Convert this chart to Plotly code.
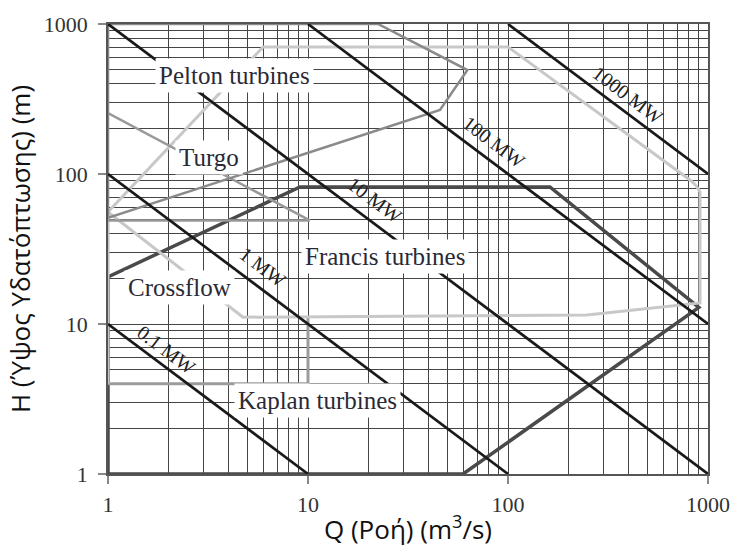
import numpy as np
import plotly.graph_objects as go

# ---- data -------------------------------------------------------------
# constant-power lines (H*Q = const), end points
mw_labels = ["0.1 MW", "1 MW", "10 MW", "100 MW", "1000 MW"]
mw_q = [[1, 10], [1, 100], [1, 1000], [10, 1000], [100, 1000]]
mw_h = [[10, 1], [100, 1], [1000, 1], [1000, 10], [1000, 100]]
mw_label_q = [1.97, 5.96, 21.6, 85.1, 398]
mw_label_h = [6.71, 24.0, 67.1, 163, 336]

# turbine application envelopes
pelton_q = [1, 1, 22.4, 62.7, 45.7, 1]
pelton_h = [51, 1000, 1000, 493, 267, 51]

turgo_q = [1, 10.2, 1]
turgo_h = [255, 49, 49]

francis_q = [1, 5.96, 100, 813, 870, 912, 912, 248, 4.73, 1]
francis_h = [55.8, 703, 703, 91.2, 84, 75.9, 13.8, 11.5, 11.1, 55.8]

crossflow_q = [10, 10, 1]
crossflow_h = [11.1, 4, 4]
crossflow_left_q = [1, 1]
crossflow_left_h = [4, 55.8]

kaplan_q = [1, 9.12, 162, 900, 59.6, 1, 1]
kaplan_h = [20.6, 81.9, 81.9, 12.9, 1, 1, 20.6]

turbine_labels = ["Pelton turbines", "Turgo", "Crossflow", "Francis turbines", "Kaplan turbines"]
turbine_label_q = [4.27, 3.2, 2.29, 24.3, 11.2]
turbine_label_h = [457, 128, 17.4, 28.4, 3.07]

x_ticks = [1, 10, 100, 1000]
y_ticks = [1, 10, 100, 1000]

# ---- figure -----------------------------------------------------------
fig = go.Figure()

def add_line(q, h, color, width):
    fig.add_trace(go.Scatter(x=q, y=h, mode="lines",
                             line=dict(color=color, width=width),
                             hoverinfo="skip", showlegend=False))

add_line(kaplan_q, kaplan_h, "#4a4a4a", 3.5)
add_line(crossflow_q, crossflow_h, "#9c9c9c", 3)
add_line(crossflow_left_q, crossflow_left_h, "#c4c4c4", 3)
add_line(francis_q, francis_h, "#c8c8c8", 3)
add_line(turgo_q, turgo_h, "#999999", 2.5)
add_line(pelton_q, pelton_h, "#8a8a8a", 2.5)

for q, h in zip(mw_q, mw_h):
    add_line(q, h, "#1a1a1a", 2.7)

serif = "Liberation Serif"
annotations = []
for lab, q, h in zip(mw_labels, mw_label_q, mw_label_h):
    annotations.append(dict(x=np.log10(q), y=np.log10(h), xref="x", yref="y",
                            text=lab, showarrow=False, textangle=37,
                            font=dict(family=serif, size=20, color="#222")))
for lab, q, h in zip(turbine_labels, turbine_label_q, turbine_label_h):
    annotations.append(dict(x=np.log10(q), y=np.log10(h), xref="x", yref="y",
                            text=lab, showarrow=False, bgcolor="white",
                            borderpad=3,
                            font=dict(family=serif, size=25, color="#2a2a36")))

grid_col = "#454545"
axis_common = dict(
    type="log", range=[0, 3], automargin=False,
    ticks="outside", ticklen=8, tickcolor="#888", tickwidth=1.5,
    showgrid=True, gridcolor=grid_col, gridwidth=1.1,
    minor=dict(dtick="D1", showgrid=True, gridcolor=grid_col, gridwidth=1.1, ticks=""),
    showline=True, mirror=True, linecolor="#555", linewidth=1.5,
    zeroline=False,
    tickfont=dict(family=serif, size=22, color="#333"),
)

fig.update_layout(
    width=734, height=547, autosize=False,
    margin=dict(l=108, r=26, t=24, b=73),
    paper_bgcolor="white", plot_bgcolor="white",
    xaxis=dict(axis_common, tickvals=x_ticks, ticktext=[str(v) for v in x_ticks],
               ticklabelstandoff=2,
               title=dict(text="Q (Ροή) (m<sup>3</sup>/s)", standoff=4,
                          font=dict(family="Open Sans", size=26, color="#111"))),
    yaxis=dict(axis_common, tickvals=y_ticks, ticktext=[str(v) for v in y_ticks],
               ticklabelstandoff=6,
               title=dict(text="H (Ύψος Υδατόπτωσης) (m)", standoff=6,
                          font=dict(family="Open Sans", size=26, color="#111"))),
    annotations=annotations,
)

fig.write_html("out.html", config={"displayModeBar": False},
               post_script="document.body.style.margin='0px';document.body.style.overflow='hidden';")
